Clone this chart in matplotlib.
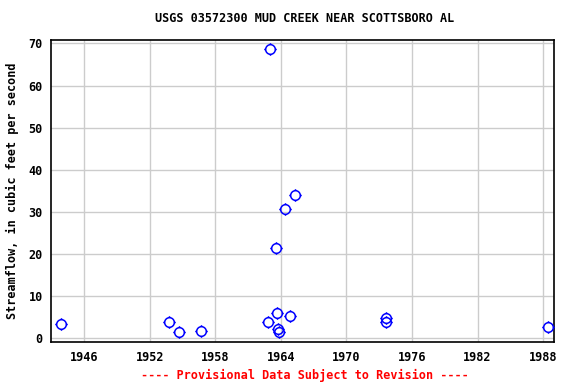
import matplotlib
matplotlib.use("Agg")
import matplotlib.pyplot as plt
from matplotlib.path import Path
import numpy as np

years = [1943.86, 1953.77, 1954.69, 1956.67, 1962.83, 1963.02, 1963.53, 1963.65,
         1963.75, 1963.84, 1964.39, 1964.82, 1965.30, 1973.66, 1973.66, 1988.45]
flows = [3.3, 3.9, 1.4, 1.7, 3.8, 68.6, 21.5, 5.9,
         2.1, 1.4, 30.6, 5.3, 34.0, 4.75, 3.95, 2.6]
xticks = [1946, 1952, 1958, 1964, 1970, 1976, 1982, 1988]
yticks = [0, 10, 20, 30, 40, 50, 60, 70]

# circle marker with small tick stubs
t = np.linspace(0, 2 * np.pi, 49)
verts = [(np.cos(a), np.sin(a)) for a in t]
codes = [Path.MOVETO] + [Path.LINETO] * (len(t) - 1)
for (x0, y0, x1, y1) in [(1, 0, 1.3, 0), (-1, 0, -1.3, 0), (0, 1, 0, 1.3), (0, -1, 0, -1.3)]:
    verts += [(x0, y0), (x1, y1)]
    codes += [Path.MOVETO, Path.LINETO]
marker = Path(verts, codes)

fig = plt.figure(figsize=(5.76, 3.84), dpi=100)
ax = fig.add_axes([51 / 576, 1 - 342.3 / 384, (554 - 51) / 576, (342.3 - 40) / 384])
ax.plot(years, flows, linestyle="none", marker=marker, markersize=9,
        markerfacecolor="none", markeredgecolor="#0000ff", markeredgewidth=1.1, zorder=3)

ax.set_xlim(1942.95, 1989.0)
ax.set_ylim(-0.95, 70.8)
ax.set_xticks(xticks)
ax.set_yticks(yticks)
ax.grid(True, color="#cccccc", linewidth=1)
ax.set_axisbelow(True)
ax.tick_params(length=0, pad=6)
fs = 8.5
mono = {"family": "DejaVu Sans Mono", "weight": "bold", "size": fs}
for lab in ax.get_xticklabels() + ax.get_yticklabels():
    lab.set_fontfamily("DejaVu Sans Mono")
    lab.set_fontweight("bold")
    lab.set_fontsize(fs)
for s in ax.spines.values():
    s.set_linewidth(1.2)
    s.set_color("black")

ax.set_ylabel("Streamflow, in cubic feet per second", fontdict=mono, labelpad=7)
fig.text(305 / 576, 1 - 19 / 384, "USGS 03572300 MUD CREEK NEAR SCOTTSBORO AL",
         ha="center", va="center", **mono)
fig.text(305 / 576, 1 - 375 / 384, "---- Provisional Data Subject to Revision ----",
         ha="center", va="center", color="red", **mono)

fig.savefig("out.png", dpi=100)
